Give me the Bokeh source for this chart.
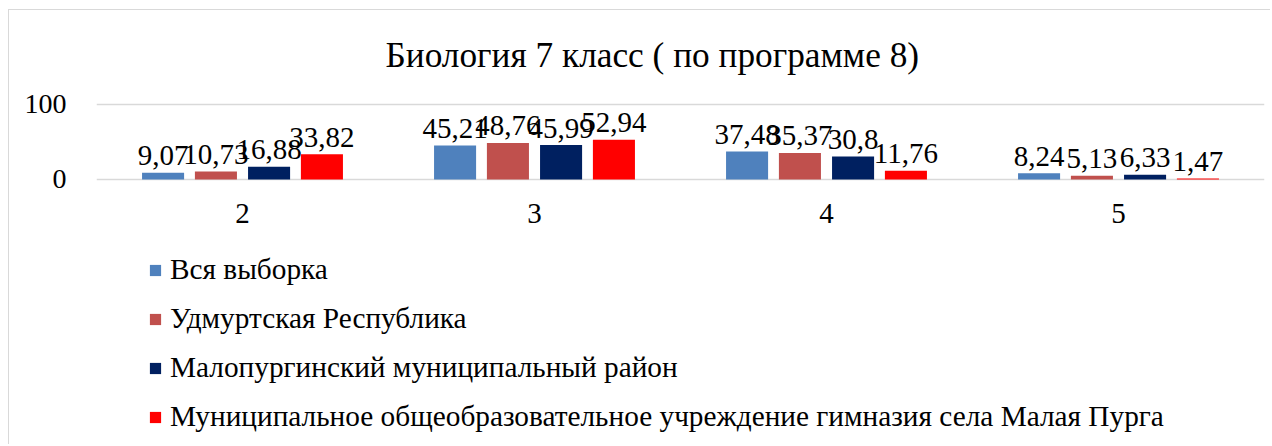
from bokeh.plotting import figure
from bokeh.models import ColumnDataSource, FactorRange, Legend, LegendItem, FixedTicker, Range1d
from bokeh.transform import dodge
from bokeh.core.properties import value
from bokeh.embed import file_html
from bokeh.resources import INLINE

categories = ["2", "3", "4", "5"]
series_names = [
    "Вся выборка",
    "Удмуртская Республика",
    "Малопургинский муниципальный район",
    "Муниципальное общеобразовательное учреждение гимназия села Малая Пурга",
]
vsya = [9.07, 45.21, 37.48, 8.24]
udm = [10.73, 48.76, 35.37, 5.13]
malop = [16.88, 45.99, 30.8, 6.33]
gimn = [33.82, 52.94, 11.76, 1.47]
colors = ["#4F81BD", "#C0504D", "#002060", "#FF0000"]
title_text = "Биология 7 класс ( по программе 8)"
y_ticks = [0, 100]

FONT = "Liberation Serif"

def fmt(v):
    s = ("%.2f" % v).rstrip("0").rstrip(".")
    return s.replace(".", ",")

data = {"cat": categories, "zero": [0] * len(categories)}
keys = ["s0", "s1", "s2", "s3"]
for k, vals in zip(keys, [vsya, udm, malop, gimn]):
    data[k] = vals
    data[k + "_lbl"] = [fmt(v) for v in vals]
src = ColumnDataSource(data)

# frame: 0.75 px per unit; extends down to hold category labels and legend
p = figure(
    x_range=FactorRange(*categories),
    y_range=Range1d(-354.67, 125.33),
    width=1262, height=435,
    output_backend="svg", toolbar_location=None,
    min_border_left=87, min_border_right=7, min_border_top=75, min_border_bottom=0,
)
p.styles = {"margin-left": "8px", "margin-top": "9px",
            "border-left": "1px solid #d9d9d9", "border-top": "1px solid #d9d9d9"}
p.outline_line_color = None
p.background_fill_color = "white"
p.border_fill_color = "white"

p.title.text = title_text
p.title.text_font = FONT
p.title.text_font_size = "35.3px"
p.title.text_font_style = "normal"
p.title.text_color = "black"
p.title.align = "left"
p.title.offset = 289
p.title.standoff = 21

offsets = [-0.272, -0.091, 0.091, 0.272]
renderers = []
for k, off, c in zip(keys, offsets, colors):
    r = p.vbar(x=dodge("cat", off, range=p.x_range), top=k, width=0.144,
               source=src, fill_color=c, line_color=None)
    renderers.append(r)
    p.text(x=dodge("cat", off, range=p.x_range), y=k, text=k + "_lbl", source=src,
           text_font=value(FONT), text_font_size="29px", text_align="center",
           text_baseline="alphabetic", y_offset=-17, text_color="black")

# category labels under the zero line
p.text(x="cat", y="zero", text="cat", source=src, text_font=value(FONT),
       text_font_size="29px", text_align="center", text_baseline="middle",
       y_offset=34, text_color="black")

p.xaxis.visible = False
p.yaxis.ticker = FixedTicker(ticks=y_ticks)
p.yaxis.axis_line_color = None
p.yaxis.major_tick_line_color = None
p.yaxis.minor_tick_line_color = None
p.yaxis.major_label_text_font = FONT
p.yaxis.major_label_text_font_size = "28px"
p.yaxis.major_label_text_color = "black"
p.yaxis.major_label_standoff = 24

p.xgrid.grid_line_color = None
p.ygrid.ticker = FixedTicker(ticks=y_ticks)
p.ygrid.grid_line_color = "#D9D9D9"
p.ygrid.grid_line_width = 1.5

items = [LegendItem(label=n, renderers=[r]) for n, r in zip(series_names, renderers)]
legend = Legend(items=items, location=(52, 11.5), orientation="vertical",
                label_text_font=FONT, label_text_font_size="29.3px", label_text_color="black",
                glyph_width=14, glyph_height=14, label_standoff=8, label_height=34,
                spacing=15, padding=0, margin=0,
                background_fill_alpha=0, border_line_alpha=0)
p.add_layout(legend, "center")

open("out.html", "w").write(file_html(p, INLINE))
